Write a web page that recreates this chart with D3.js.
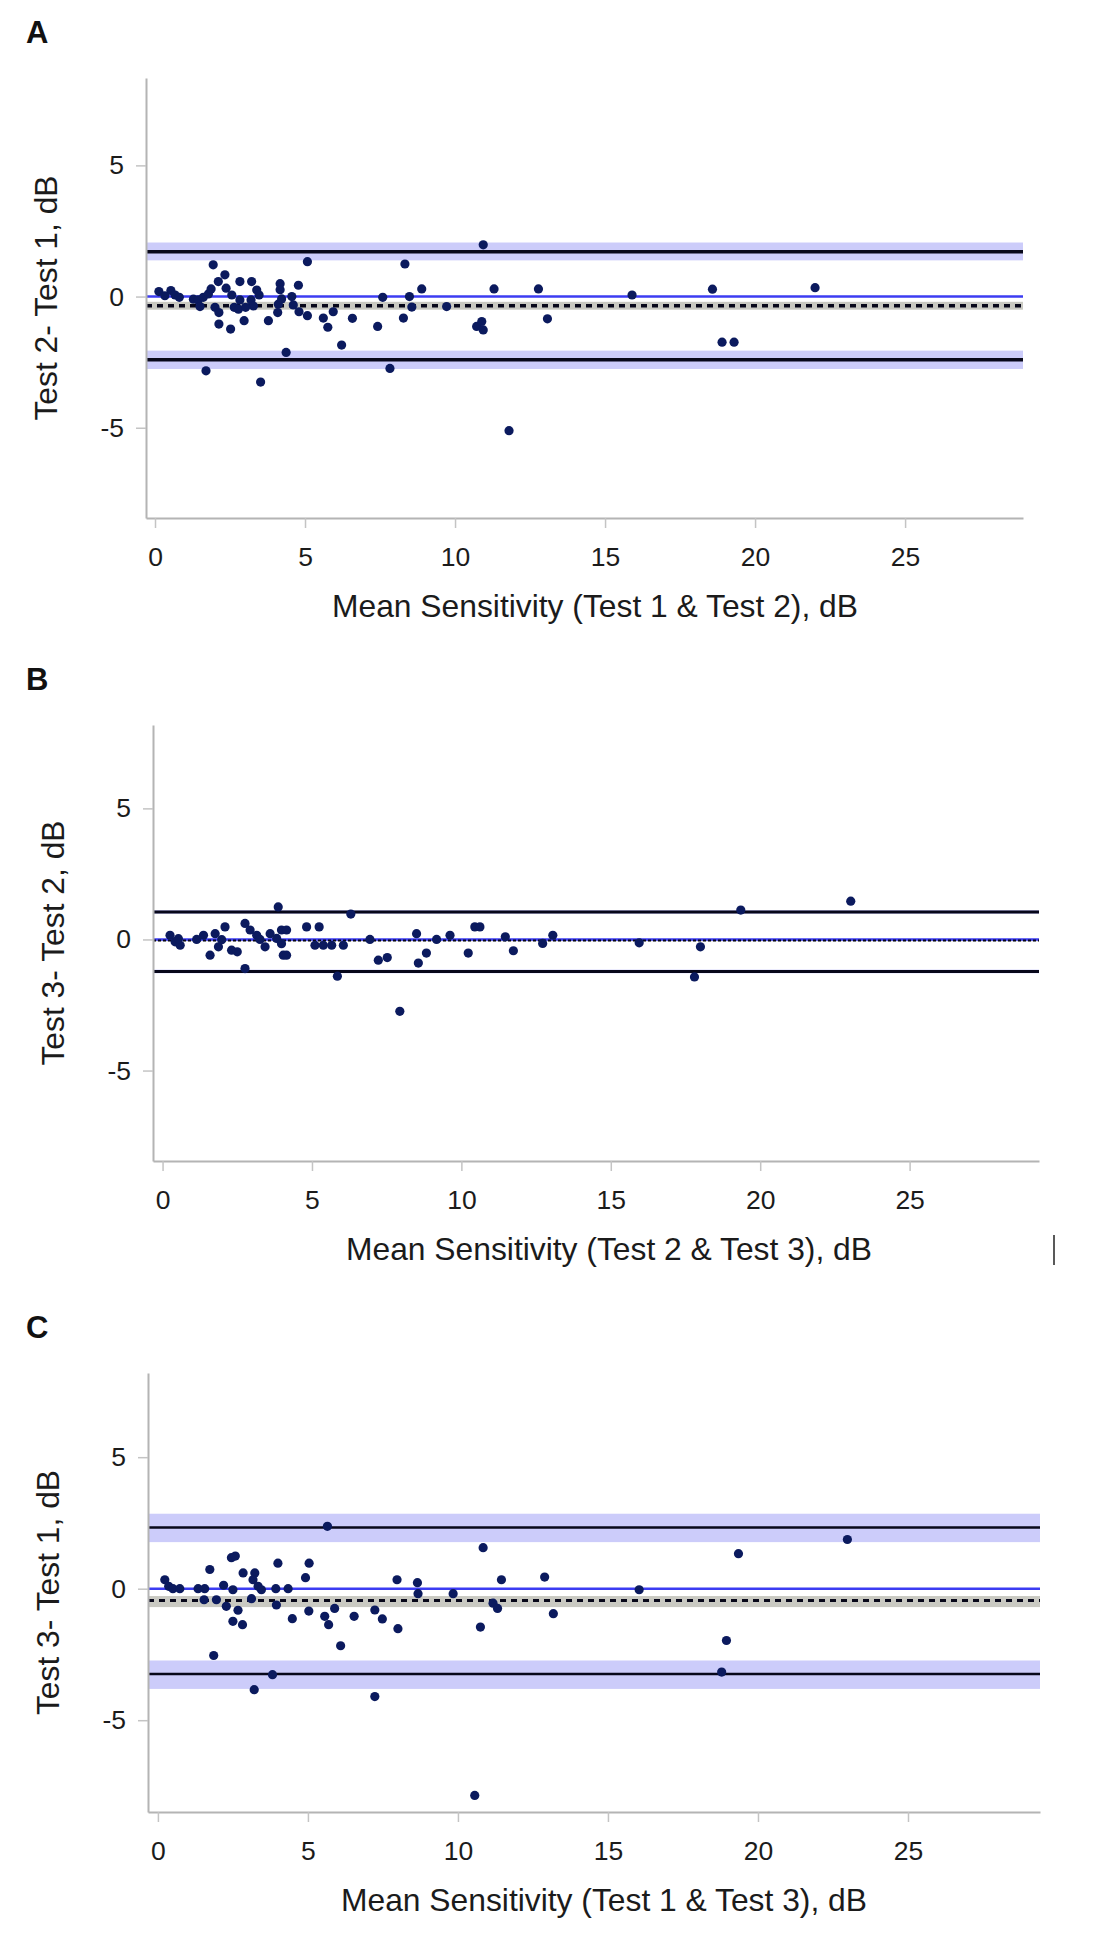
<!DOCTYPE html>
<html>
<head>
<meta charset="utf-8">
<script src="https://cdn.jsdelivr.net/npm/d3@7"></script>
<style>
  html, body { margin: 0; padding: 0; background: #ffffff; }
  svg { display: block; }
</style>
</head>
<body>
<script>
// ---------------- DATA ----------------
const panelLetters = ["A", "B", "C"];
const xTitles = [
  "Mean Sensitivity (Test 1 & Test 2), dB",
  "Mean Sensitivity (Test 2 & Test 3), dB",
  "Mean Sensitivity (Test 1 & Test 3), dB"
];
const yTitles = ["Test 2- Test 1, dB", "Test 3- Test 2, dB", "Test 3- Test 1, dB"];
const xTicks = [0, 5, 10, 15, 20, 25];
const yTicks = [-5, 0, 5];

// Panel A: mean (x) and difference (y)
const aX = [0.13,0.33,0.53,0.67,0.81, 1.28,1.44,1.61,1.78,1.87,1.94,1.70,1.50,
  2.11,2.33,2.37,2.00,2.13,2.13,2.52,2.56,2.64,2.83,2.83,2.97,2.78,
  3.22,3.39,3.47,3.20,3.28,3.02,3.52,3.78,4.09,4.17,4.17,4.11,4.22,
  4.37,4.56,4.78,4.80,5.08,5.08,4.61,
  5.61,5.76,5.94,6.22,6.58,7.42,7.59,7.83,8.33,8.28,8.48,8.56,8.89,9.72,10.94,10.72,10.89,10.94,11.30,12.78,13.08,11.80,15.90,18.58,18.90,19.30,22.00];
const aY = [0.19,0.03,0.23,0.06,-0.03, -0.10,-0.13,-0.03,0.10,0.29,1.21,-2.83,-0.38,
  0.57,0.83,0.32,-0.41,-0.61,-1.05,-1.24,0.06,-0.41,0.57,-0.13,-0.92,-0.48,
  0.57,0.25,0.06,-0.13,-0.36,-0.41,-3.26,-0.92,-0.61,0.49,0.26,-0.29,-0.09,
  -2.13,0.00,0.43,-0.58,1.33,-0.73,-0.32,
  -0.82,-1.17,-0.58,-1.85,-0.83,-1.14,-0.03,-2.74,1.24,-0.82,0.00,-0.40,0.29,-0.38,1.97,-1.14,-0.95,-1.27,0.29,0.29,-0.85,-5.11,0.06,0.28,-1.74,-1.74,0.34];

// Panel B
const bX = [0.25,0.42,0.59,0.53,1.14,1.37,1.59,1.76,1.87,2.09,1.98,2.31,2.50,2.76,2.76,2.93,
  3.15,3.26,3.43,3.60,3.87,3.82,3.98,4.15,4.04,4.15,3.98,4.82,5.24,5.10,5.38,5.66,6.05,5.85,6.30,
  6.94,7.22,7.52,7.94,8.50,8.56,8.83,9.17,9.62,10.23,10.45,10.62,11.47,11.74,12.72,13.06,
  15.95,17.80,18.00,19.35,23.03];
const bY = [0.16,-0.09,-0.22,0.03,0.00,0.16,-0.60,0.22,-0.28,0.48,-0.01,-0.41,-0.47,0.61,-1.11,0.36,
  0.16,0.00,-0.28,0.22,1.24,0.04,0.36,0.36,-0.60,-0.60,-0.16,0.48,0.48,-0.22,-0.22,-0.22,-0.22,-1.40,0.97,
  0.00,-0.79,-0.69,-2.74,0.22,-0.90,-0.52,0.00,0.16,-0.52,0.48,0.48,0.10,-0.43,-0.15,0.16,
  -0.13,-1.43,-0.28,1.12,1.46];

// Panel C
const cX = [5.65,0.23,0.36,0.50,0.73,1.34,1.56,1.73,1.54,1.86,1.95,2.19,2.28,2.45,2.58,2.50,2.50,2.67,2.82,2.84,
  3.23,3.17,3.34,3.45,3.12,3.93,3.95,4.34,4.00,4.48,4.92,5.04,5.03,5.56,5.69,5.89,
  6.09,6.54,7.23,7.48,7.97,8.00,8.65,8.67,9.84,10.84,10.75,11.17,11.32,11.45,12.89,13.18,
  3.82,3.21,7.23,10.56,16.04,19.35,18.95,18.79,22.98];
const cY = [2.37,0.34,0.09,0.00,0.00,0.00,0.00,0.73,-0.42,-2.54,-0.42,0.13,-0.67,1.18,1.24,-0.04,-1.24,-0.82,-1.37,0.60,
  0.60,0.34,0.09,-0.04,-0.38,0.00,-0.62,0.00,0.97,-1.14,0.42,0.97,-0.85,-1.05,-1.37,-0.75,
  -2.17,-1.05,-0.81,-1.15,0.34,-1.52,0.23,-0.19,-0.19,1.56,-1.46,-0.55,-0.75,0.34,0.44,-0.95,
  -3.27,-3.84,-4.10,-7.86,-0.04,1.33,-1.97,-3.17,1.87];

// Bland-Altman reference values: [upper LoA, bias, lower LoA]
const aLimits = [1.71, -0.35, -2.41];
const bLimits = [1.05, -0.04, -1.22];
const cLimits = [2.33, -0.45, -3.24];
// confidence bands: [upper lo, upper hi], [bias lo, bias hi], [lower lo, lower hi]
const aBands = [[1.38, 2.06], [-0.50, -0.20], [-2.76, -2.06]];
const bBands = [[0.98, 1.12], [-0.07, -0.01], [-1.29, -1.15]];
const cBands = [[1.77, 2.85], [-0.70, -0.28], [-3.81, -2.73]];

// ---------------- LAYOUT ----------------
const W = 1093, H = 1950;
const layouts = [
  { left: 146, right: 1023, top: 78,   bottom: 518,  xDom: [-0.30, 28.93], yDom: [-8.44, 8.33], lw: 3.5, dash: "6,5", dw: 3.5, titleDx: 449 },
  { left: 153, right: 1039, top: 725,  bottom: 1161, xDom: [-0.32, 29.33], yDom: [-8.45, 8.18], lw: 3.0, dash: "3,2", dw: 2.0, titleDx: 456 },
  { left: 148, right: 1040, top: 1373, bottom: 1812, xDom: [-0.33, 29.40], yDom: [-8.49, 8.20], lw: 2.5, dash: "6,5", dw: 3.0, titleDx: 456 }
];
const panelData = [
  { xs: aX, ys: aY, lim: aLimits, bands: aBands },
  { xs: bX, ys: bY, lim: bLimits, bands: bBands },
  { xs: cX, ys: cY, lim: cLimits, bands: cBands }
];

const FONT = "'Liberation Sans', Arial, Helvetica, sans-serif";
const AXIS_GRAY = "#b4b4b4";
const BAND = "#ccccfa";
const BIAS_BAND = "#c9c9c2";
const ZERO_BLUE = "#3c3cf2";
const LINE_BLACK = "#07071a";
const DOT = "#0b1a5e";

const svg = d3.select("body").append("svg")
  .attr("width", W).attr("height", H)
  .attr("viewBox", `0 0 ${W} ${H}`);

svg.append("rect").attr("width", W).attr("height", H).attr("fill", "#fff");

layouts.forEach((L, i) => {
  const D = panelData[i];
  const x = d3.scaleLinear().domain(L.xDom).range([L.left, L.right]);
  const y = d3.scaleLinear().domain(L.yDom).range([L.bottom, L.top]);
  const g = svg.append("g");

  // panel letter
  g.append("text")
    .attr("x", 26).attr("y", L.top - 35)
    .attr("font-family", FONT).attr("font-weight", "bold")
    .attr("font-size", 31).attr("fill", "#111")
    .text(panelLetters[i]);

  // bands
  const [x0, x1] = L.xDom;
  [D.bands[0], D.bands[2]].forEach(b => {
    g.append("rect")
      .attr("x", x(x0)).attr("width", x(x1) - x(x0))
      .attr("y", y(b[1])).attr("height", y(b[0]) - y(b[1]))
      .attr("fill", BAND);
  });
  g.append("rect")
    .attr("x", x(x0)).attr("width", x(x1) - x(x0))
    .attr("y", y(D.bands[1][1])).attr("height", y(D.bands[1][0]) - y(D.bands[1][1]))
    .attr("fill", BIAS_BAND);

  // zero line
  g.append("line")
    .attr("x1", x(x0)).attr("x2", x(x1))
    .attr("y1", y(0)).attr("y2", y(0))
    .attr("stroke", ZERO_BLUE).attr("stroke-width", 2.4);

  // limits of agreement
  [D.lim[0], D.lim[2]].forEach(v => {
    g.append("line")
      .attr("x1", x(x0)).attr("x2", x(x1))
      .attr("y1", y(v)).attr("y2", y(v))
      .attr("stroke", LINE_BLACK).attr("stroke-width", L.lw);
  });
  // bias (dotted)
  g.append("line")
    .attr("x1", x(x0)).attr("x2", x(x1))
    .attr("y1", y(D.lim[1])).attr("y2", y(D.lim[1]))
    .attr("stroke", LINE_BLACK).attr("stroke-width", L.dw)
    .attr("stroke-dasharray", L.dash);

  // points
  g.append("g").selectAll("circle")
    .data(D.xs.map((v, k) => [v, D.ys[k]]))
    .join("circle")
    .attr("cx", d => x(d[0])).attr("cy", d => y(d[1]))
    .attr("r", 4.6).attr("fill", DOT);

  // axes
  const xa = g.append("g").attr("transform", `translate(0,${L.bottom})`)
    .call(d3.axisBottom(x).tickValues(xTicks).tickSize(10).tickSizeOuter(0).tickPadding(19).tickFormat(d3.format("d")));
  const ya = g.append("g").attr("transform", `translate(${L.left},0)`)
    .call(d3.axisLeft(y).tickValues(yTicks).tickSize(10).tickSizeOuter(0).tickPadding(12).tickFormat(d3.format("d")));
  [xa, ya].forEach(a => {
    a.select(".domain").attr("stroke", AXIS_GRAY).attr("stroke-width", 2);
    a.selectAll(".tick line").attr("stroke", "#c4c4c4").attr("stroke-width", 1.5);
    a.selectAll(".tick text").attr("font-family", FONT).attr("font-size", 26.5).attr("fill", "#1b1b1b");
  });
  ya.selectAll(".tick text").text(d => d < 0 ? "-" + Math.abs(d) : d);

  // axis titles
  g.append("text")
    .attr("x", L.left + L.titleDx).attr("y", L.bottom + 99)
    .attr("text-anchor", "middle")
    .attr("font-family", FONT).attr("font-size", 31.8).attr("fill", "#1b1b1b")
    .text(xTitles[i]);
  g.append("text")
    .attr("transform", `translate(${L.left - 89},${(L.top + L.bottom) / 2}) rotate(-90)`)
    .attr("text-anchor", "middle")
    .attr("font-family", FONT).attr("font-size", 31.8).attr("fill", "#1b1b1b")
    .text(yTitles[i]);
});

// small stray vertical mark beside panel B title
svg.append("line")
  .attr("x1", 1054).attr("x2", 1054)
  .attr("y1", layouts[1].bottom + 74).attr("y2", layouts[1].bottom + 104)
  .attr("stroke", "#222").attr("stroke-width", 1.5);
</script>
</body>
</html>
